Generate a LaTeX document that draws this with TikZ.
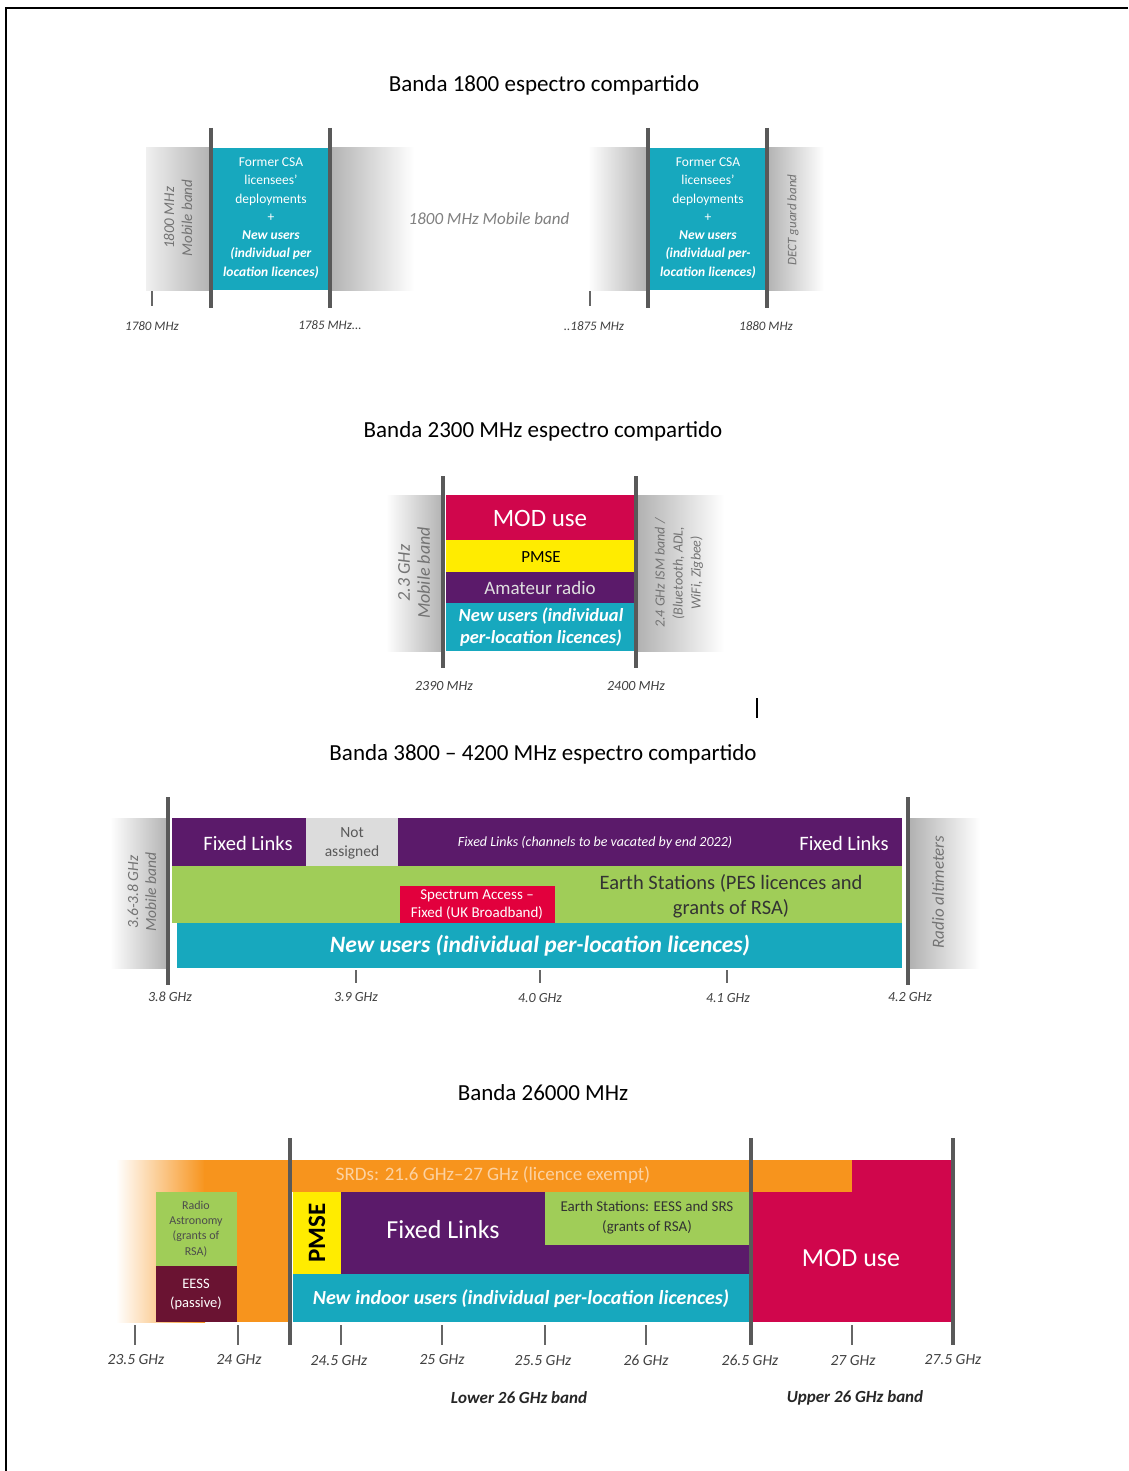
\documentclass[tikz,border=0pt]{standalone}
\usepackage{fontspec}
\setmainfont{Carlito}
\newcommand{\fsz}[2]{\fontsize{#1}{#2}\selectfont}
\definecolor{tealb}{HTML}{17A8BE}
\definecolor{modred}{HTML}{D0064C}
\definecolor{pmsey}{HTML}{FFEC00}
\definecolor{purp}{HTML}{5B1A6A}
\definecolor{lgreen}{HTML}{A0CD58}
\definecolor{orng}{HTML}{F7941D}
\definecolor{maroonb}{HTML}{6A1332}
\definecolor{nagray}{HTML}{DCDCDC}
\definecolor{sared}{HTML}{E2003D}
\definecolor{sidegray}{HTML}{B2B2B2}
\definecolor{peach}{HTML}{FCD2A2}
\begin{document}
\begin{tikzpicture}[x=1pt,y=-1pt,
  title/.style={font=\fsz{23}{27}, text=black},
  bandline/.style={line width=3.2pt, draw=black!65},
  tickmark/.style={line width=1.4pt, draw=black!60},
  ticklbl/.style={font=\fsz{14}{16}\itshape, text=black!75},
  sidelbl/.style={rotate=90, font=\fsz{15}{18}\itshape, text=black!55, align=center},
  wtxt/.style={text=white, align=center},
  btxt/.style={text=black!80, align=center}]
\useasboundingbox (0,0) rectangle (1128,1471);
\fill[white] (0,0) rectangle (1128,1471);
% page frame
\draw[line width=2pt] (6,1471) -- (6,8) -- (1128,8);

% ---------------- 1800 MHz ----------------
\node[title] (t1) at (544,85) {Banda 1800 espectro compartido};
% lower block
\shade[left color=black!6, right color=sidegray] (146,148) rectangle (211,290);
\shade[left color=sidegray, right color=white] (330,148) rectangle (414,290);
\fill[tealb] (213,148) rectangle (328,290);
\draw[bandline] (211,128) -- (211,308);
\draw[bandline] (330,128) -- (330,308);
\draw[tickmark] (152,291) -- (152,306);
\node[wtxt, font=\fsz{13.5}{18.3}] (b1a) at (271,218)
  {Former CSA\\licensees'\\deployments\\+\\\textbf{\textit{New users}}\\\textbf{\textit{(individual per}}\\\textbf{\textit{location licences)}}};
\node[sidelbl] (m1a) at (178,218) {1800 MHz\\Mobile band};
\node[font=\fsz{17}{19}\itshape, text=black!50] (m1b) at (489,219) {1800 MHz Mobile band};
% upper block
\shade[left color=white, right color=sidegray] (588,148) rectangle (648,290);
\shade[left color=sidegray, right color=white] (767,148) rectangle (824,290);
\fill[tealb] (650,148) rectangle (765,290);
\draw[bandline] (648,128) -- (648,308);
\draw[bandline] (767,128) -- (767,308);
\draw[tickmark] (590,291) -- (590,306);
\node[wtxt, font=\fsz{13.5}{18.3}] (b1b) at (708,218)
  {Former CSA\\licensees'\\deployments\\+\\\textbf{\textit{New users}}\\\textbf{\textit{(individual per-}}\\\textbf{\textit{location licences)}}};
\node[sidelbl, font=\fsz{13}{15}\itshape] (d1) at (793,220) {DECT guard band};
\node[ticklbl, font=\fsz{13}{15}\itshape] (l1a) at (152,326) {1780 MHz};
\node[ticklbl, font=\fsz{13}{15}\itshape] (l1b) at (330,325) {1785 MHz...};
\node[ticklbl, font=\fsz{13}{15}\itshape] (l1c) at (594,326) {..1875 MHz};
\node[ticklbl, font=\fsz{13}{15}\itshape] (l1d) at (766,326) {1880 MHz};

% ---------------- 2300 MHz ----------------
\node[title] (t2) at (543,431) {Banda 2300 MHz espectro compartido};
\shade[left color=white, right color=sidegray] (386,495) rectangle (443,651);
\shade[left color=sidegray, right color=white] (638,495) rectangle (724,651);
\fill[modred] (446,495) rectangle (634,540);
\fill[pmsey] (446,540) rectangle (634,572);
\fill[purp] (446,572) rectangle (634,603);
\fill[tealb] (446,603) rectangle (634,651);
\draw[bandline] (443,476) -- (443,668);
\draw[bandline] (636,476) -- (636,668);
\node[wtxt, font=\fsz{25}{27}] (mod2) at (540,518) {MOD use};
\node[text=black, font=\fsz{17}{19}] (pm2) at (541,557) {PMSE};
\node[wtxt, text=white!88!black, font=\fsz{19}{21}] (am2) at (540,588) {Amateur radio};
\node[wtxt, font=\fsz{18.5}{22}\bfseries\itshape] (nu2) at (541,627) {New users (individual\\per-location licences)};
\node[sidelbl, font=\fsz{18}{20}\itshape] (s2a) at (414,573) {2.3 GHz\\Mobile band};
\node[sidelbl, font=\fsz{14}{18}\itshape] (s2b) at (679,573) {2.4 GHz ISM band /\\(Bluetooth, ADL,\\WiFi, Zigbee)};
\node[ticklbl] (l2a) at (444,686) {2390 MHz};
\node[ticklbl] (l2b) at (636,686) {2400 MHz};
\draw[line width=2pt, black] (757,698) -- (757,718);

% ---------------- 3800-4200 MHz ----------------
\node[title] (t3) at (543,754) {Banda 3800 -- 4200 MHz espectro compartido};
\shade[left color=white, right color=sidegray] (110,818) rectangle (168,968);
\shade[left color=sidegray, right color=white] (910,818) rectangle (980,968);
\fill[purp] (172,818) rectangle (306,866);
\fill[nagray] (306,818) rectangle (398,866);
\fill[purp] (398,818) rectangle (902,866);
\fill[lgreen] (172,866) rectangle (902,923);
\fill[sared] (400,886) rectangle (555,923);
\fill[tealb] (177,923) rectangle (902,968);
\draw[bandline] (168,797) -- (168,985);
\draw[bandline] (908,797) -- (908,985);
\node[wtxt, font=\fsz{20.5}{22}] (fl3a) at (248,843) {Fixed Links};
\node[btxt, text=black!65, font=\fsz{15.5}{19}] (na3) at (352,843) {Not\\assigned};
\node[wtxt, font=\fsz{14}{16}\itshape] (fl3b) at (595,843) {Fixed Links (channels to be vacated by end 2022)};
\node[wtxt, font=\fsz{20.5}{22}] (fl3c) at (844,843) {Fixed Links};
\node[btxt, font=\fsz{20.5}{25}] (es3) at (731,896) {Earth Stations (PES licences and\\grants of RSA)};
\node[wtxt, font=\fsz{15}{18}] (sa3) at (477,905) {Spectrum Access --\\Fixed (UK Broadband)};
\node[wtxt, font=\fsz{23.5}{25}\bfseries\itshape] (nu3) at (540,946) {New users (individual per-location licences)};
\node[sidelbl, font=\fsz{15.5}{18}\itshape] (s3a) at (142,892) {3.6-3.8 GHz\\Mobile band};
\node[sidelbl, font=\fsz{17}{19}\itshape] (s3b) at (938,892) {Radio altimeters};
\foreach \x in {356,540,727} \draw[tickmark] (\x,970) -- (\x,983);
\node[ticklbl] (l3a) at (170,997) {3.8 GHz};
\node[ticklbl] (l3b) at (356,997) {3.9 GHz};
\node[ticklbl] (l3c) at (540,998) {4.0 GHz};
\node[ticklbl] (l3d) at (728,998) {4.1 GHz};
\node[ticklbl] (l3e) at (910,997) {4.2 GHz};

% ---------------- 26 GHz ----------------
\node[title] (t4) at (543,1093) {Banda 26000 MHz};
\shade[left color=white, right color=orng] (116,1160) rectangle (205,1322);
\fill[orng] (204,1160) rectangle (290,1322);
\fill[orng] (290,1160) rectangle (852,1192);
\fill[modred] (852,1160) rectangle (951,1192);
\fill[modred] (753,1192) rectangle (951,1322);
\fill[lgreen] (156,1192) rectangle (237,1266);
\fill[maroonb] (156,1266) rectangle (237,1322);
\fill[pmsey] (293,1192) rectangle (341,1274);
\fill[purp] (341,1192) rectangle (750,1274);
\fill[lgreen] (545,1192) rectangle (750,1245);
\fill[tealb] (293,1274) rectangle (750,1322);
\draw[bandline] (290,1138) -- (290,1345);
\draw[bandline] (751,1138) -- (751,1345);
\draw[bandline] (953,1138) -- (953,1345);
\node[text=peach, font=\fsz{19}{21}] (srd) at (493,1175) {SRDs: 21.6 GHz--27 GHz (licence exempt)};
\node[btxt, text=black!70, font=\fsz{12}{15.3}] (ra4) at (196,1229) {Radio\\Astronomy\\(grants of\\RSA)};
\node[wtxt, font=\fsz{14.5}{19}] (ee4) at (196,1294) {EESS\\(passive)};
\node[rotate=90, text=black, font=\fsz{25}{27}\bfseries] (pm4) at (317,1233) {PMSE};
\node[wtxt, font=\fsz{26}{28}] (fl4) at (443,1230) {Fixed Links};
\node[btxt, font=\fsz{15}{20}] (es4) at (647,1218) {Earth Stations: EESS and SRS\\(grants of RSA)};
\node[wtxt, font=\fsz{20}{22}\bfseries\itshape] (nu4) at (521,1299) {New indoor users (individual per-location licences)};
\node[wtxt, font=\fsz{26}{28}] (mod4) at (851,1258) {MOD use};
\foreach \x in {135,238,341,442,545,646,852} \draw[tickmark] (\x,1325) -- (\x,1345);
\node[ticklbl, font=\fsz{15.5}{17}\itshape] (g1) at (136,1360) {23.5 GHz};
\node[ticklbl, font=\fsz{15.5}{17}\itshape] (g2) at (239,1360) {24 GHz};
\node[ticklbl, font=\fsz{15.5}{17}\itshape] (g3) at (339,1361) {24.5 GHz};
\node[ticklbl, font=\fsz{15.5}{17}\itshape] (g4) at (442,1360) {25 GHz};
\node[ticklbl, font=\fsz{15.5}{17}\itshape] (g5) at (543,1361) {25.5 GHz};
\node[ticklbl, font=\fsz{15.5}{17}\itshape] (g6) at (646,1360) {26 GHz};
\node[ticklbl, font=\fsz{15.5}{17}\itshape] (g7) at (750,1360) {26.5 GHz};
\node[ticklbl, font=\fsz{15.5}{17}\itshape] (g8) at (853,1361) {27 GHz};
\node[ticklbl, font=\fsz{15.5}{17}\itshape] (g9) at (953,1360) {27.5 GHz};
\node[font=\fsz{17}{19}\bfseries\itshape, text=black!85] (lo) at (519,1398) {Lower 26 GHz band};
\node[font=\fsz{17}{19}\bfseries\itshape, text=black!85] (up) at (855,1398) {Upper 26 GHz band};
\end{tikzpicture}
\end{document}
